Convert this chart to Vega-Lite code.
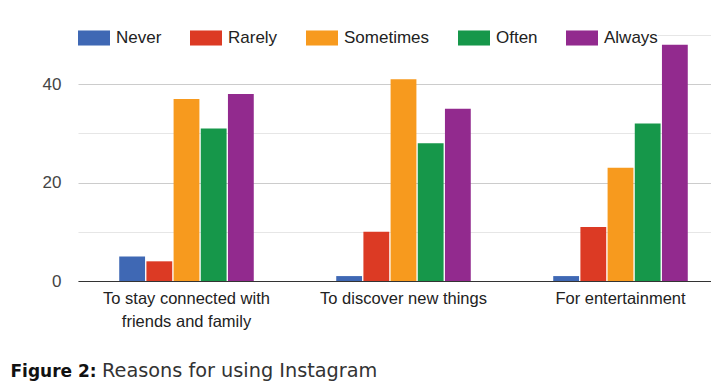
{
  "$schema": "https://vega.github.io/schema/vega-lite/v6.json",
  "width": 633,
  "height": 246,
  "autosize": "none",
  "padding": {"left": 78, "top": 35, "right": 0, "bottom": 110},
  "background": "white",
  "data": {
    "values": [
      {"reason": "To stay connected with friends and family", "level": "Never", "value": 5},
      {"reason": "To stay connected with friends and family", "level": "Rarely", "value": 4},
      {"reason": "To stay connected with friends and family", "level": "Sometimes", "value": 37},
      {"reason": "To stay connected with friends and family", "level": "Often", "value": 31},
      {"reason": "To stay connected with friends and family", "level": "Always", "value": 38},
      {"reason": "To discover new things", "level": "Never", "value": 1},
      {"reason": "To discover new things", "level": "Rarely", "value": 10},
      {"reason": "To discover new things", "level": "Sometimes", "value": 41},
      {"reason": "To discover new things", "level": "Often", "value": 28},
      {"reason": "To discover new things", "level": "Always", "value": 35},
      {"reason": "For entertainment", "level": "Never", "value": 1},
      {"reason": "For entertainment", "level": "Rarely", "value": 11},
      {"reason": "For entertainment", "level": "Sometimes", "value": 23},
      {"reason": "For entertainment", "level": "Often", "value": 32},
      {"reason": "For entertainment", "level": "Always", "value": 48}
    ]
  },
  "mark": {"type": "bar"},
  "encoding": {
    "x": {
      "field": "reason",
      "type": "nominal",
      "sort": null,
      "scale": {"range": [0, 651], "paddingInner": 0.38, "paddingOuter": 0.19},
      "axis": {
        "title": "Reasons for using Instagram",
        "titleX": 23.5,
        "titleY": 95,
        "titleAlign": "left",
        "titleBaseline": "alphabetic",
        "titleFont": "DejaVu Sans",
        "titleFontSize": 19.3,
        "titleFontWeight": "normal",
        "titleColor": "#333333",
        "labelAngle": 0,
        "labelFont": "Liberation Sans",
        "labelFontSize": 16.5,
        "labelColor": "#222222",
        "labelPadding": 9,
        "labelLineHeight": 23,
        "labelLimit": 0,
        "labelExpr": "datum.label == 'To stay connected with friends and family' ? ['To stay connected with', 'friends and family'] : datum.label",
        "ticks": false,
        "domainColor": "#333333",
        "domainWidth": 1.2,
        "grid": false
      }
    },
    "xOffset": {
      "field": "level",
      "type": "nominal",
      "sort": ["Never", "Rarely", "Sometimes", "Often", "Always"],
      "scale": {"paddingInner": 0.05}
    },
    "y": {
      "field": "value",
      "type": "quantitative",
      "scale": {"domain": [0, 50], "nice": false},
      "axis": {
        "values": [0, 10, 20, 30, 40, 50],
        "labelExpr": "datum.value % 20 === 0 ? datum.label : ''",
        "title": "Figure 2:",
        "titleAngle": 0,
        "titleX": -68,
        "titleY": 341,
        "titleAlign": "left",
        "titleBaseline": "alphabetic",
        "titleFont": "DejaVu Sans",
        "titleFontSize": 17,
        "titleFontWeight": "bold",
        "titleColor": "#111111",
        "labelFont": "Liberation Sans",
        "labelFontSize": 17,
        "labelColor": "#444444",
        "labelPadding": 17,
        "ticks": false,
        "domain": false,
        "grid": true,
        "gridColor": {"condition": {"test": "datum.value % 20 === 0", "value": "#cccccc"}, "value": "#e6e6e6"},
        "gridWidth": 1.2
      }
    },
    "color": {
      "field": "level",
      "type": "nominal",
      "scale": {
        "domain": ["Never", "Rarely", "Sometimes", "Often", "Always"],
        "range": ["#3f68b4", "#dc3a24", "#f79a1e", "#16974a", "#922a8e"]
      },
      "legend": {
        "title": null,
        "orient": "none",
        "direction": "horizontal",
        "legendX": 0,
        "legendY": -13,
        "symbolType": "M-1,-0.47L1,-0.47L1,0.47L-1,0.47Z",
        "symbolSize": 1024,
        "symbolStrokeWidth": 0,
        "symbolOpacity": 1,
        "labelFont": "Liberation Sans",
        "labelFontSize": 17,
        "labelColor": "#222222",
        "labelOffset": 6,
        "columnPadding": 28,
        "fillColor": "white",
        "padding": 0
      }
    }
  },
  "config": {
    "view": {"stroke": null}
  }
}
